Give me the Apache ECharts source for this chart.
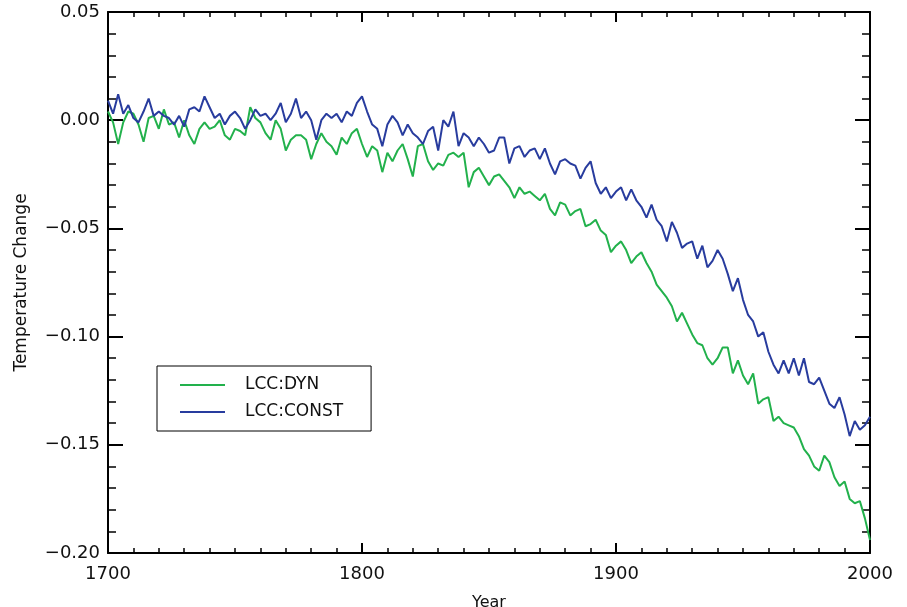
<!DOCTYPE html>
<html>
<head>
<meta charset="utf-8">
<script src="https://cdn.jsdelivr.net/npm/echarts@6/dist/echarts.min.js"></script>
<style>
  html, body { margin: 0; padding: 0; background: #fff; }
  #chart { width: 907px; height: 607px; }
</style>
</head>
<body>
<div id="chart"></div>
<script>
// model years, every second year from 1700 to 2000
const startYear = 1700;
const yearStep = 2;

// LCC:DYN, temperature change
const dynValues = [
  0.004, -0.001, -0.011, -0.001, 0.004,
  0.003, -0.002, -0.010, 0.001, 0.002,
  -0.004, 0.005, -0.002, -0.001, -0.008,
  0.000, -0.007, -0.011, -0.004, -0.001,
  -0.004, -0.003, 0.000, -0.007, -0.009,
  -0.004, -0.005, -0.007, 0.006, 0.001,
  -0.001, -0.006, -0.009, 0.000, -0.004,
  -0.014, -0.009, -0.007, -0.007, -0.009,
  -0.018, -0.011, -0.006, -0.010, -0.012,
  -0.016, -0.008, -0.011, -0.006, -0.004,
  -0.011, -0.017, -0.012, -0.014, -0.024,
  -0.015, -0.019, -0.014, -0.011, -0.018,
  -0.026, -0.012, -0.011, -0.019, -0.023,
  -0.020, -0.021, -0.016, -0.015, -0.017,
  -0.015, -0.031, -0.024, -0.022, -0.026,
  -0.030, -0.026, -0.025, -0.028, -0.031,
  -0.036, -0.031, -0.034, -0.033, -0.035,
  -0.037, -0.034, -0.041, -0.044, -0.038,
  -0.039, -0.044, -0.042, -0.041, -0.049,
  -0.048, -0.046, -0.051, -0.053, -0.061,
  -0.058, -0.056, -0.060, -0.066, -0.063,
  -0.061, -0.066, -0.070, -0.076, -0.079,
  -0.082, -0.086, -0.093, -0.089, -0.094,
  -0.099, -0.103, -0.104, -0.110, -0.113,
  -0.110, -0.105, -0.105, -0.117, -0.111,
  -0.118, -0.122, -0.117, -0.131, -0.129,
  -0.128, -0.139, -0.137, -0.140, -0.141,
  -0.142, -0.146, -0.152, -0.155, -0.160,
  -0.162, -0.155, -0.158, -0.165, -0.169,
  -0.167, -0.175, -0.177, -0.176, -0.184,
  -0.194
];

// LCC:CONST, temperature change
const constValues = [
  0.009, 0.003, 0.012, 0.003, 0.007,
  0.001, -0.001, 0.004, 0.010, 0.002,
  0.004, 0.002, 0.001, -0.002, 0.002,
  -0.003, 0.005, 0.006, 0.004, 0.011,
  0.006, 0.001, 0.003, -0.002, 0.002,
  0.004, 0.001, -0.004, 0.000, 0.005,
  0.002, 0.003, 0.000, 0.003, 0.008,
  -0.001, 0.003, 0.010, 0.001, 0.004,
  0.000, -0.009, 0.000, 0.003, 0.001,
  0.003, -0.001, 0.004, 0.002, 0.008,
  0.011, 0.004, -0.002, -0.004, -0.012,
  -0.002, 0.002, -0.001, -0.007, -0.002,
  -0.006, -0.008, -0.011, -0.005, -0.003,
  -0.014, 0.000, -0.003, 0.004, -0.012,
  -0.006, -0.008, -0.012, -0.008, -0.011,
  -0.015, -0.014, -0.008, -0.008, -0.020,
  -0.013, -0.012, -0.017, -0.014, -0.013,
  -0.018, -0.013, -0.020, -0.025, -0.019,
  -0.018, -0.020, -0.021, -0.027, -0.022,
  -0.019, -0.029, -0.034, -0.031, -0.036,
  -0.033, -0.031, -0.037, -0.032, -0.037,
  -0.040, -0.045, -0.039, -0.046, -0.049,
  -0.056, -0.047, -0.052, -0.059, -0.057,
  -0.056, -0.064, -0.058, -0.068, -0.065,
  -0.060, -0.064, -0.071, -0.079, -0.073,
  -0.083, -0.090, -0.093, -0.100, -0.098,
  -0.107, -0.113, -0.117, -0.111, -0.117,
  -0.110, -0.118, -0.110, -0.121, -0.122,
  -0.119, -0.125, -0.131, -0.133, -0.128,
  -0.136, -0.146, -0.139, -0.143, -0.141,
  -0.137
];

const seriesNames = ['LCC:DYN', 'LCC:CONST'];
const seriesColors = ['#22b14c', '#283c9e'];

const years = dynValues.map((_, i) => startYear + i * yearStep);
const toPairs = (vals) => vals.map((v, i) => [years[i], v]);

const font = 'DejaVu Sans, Verdana, sans-serif';
const fmtY = (v) => v.toFixed(2).replace('-', '\u2212');

const frameLine = { show: true, onZero: false, lineStyle: { color: '#000', width: 2 } };

const xBase = {
    type: 'value',
    min: 1700,
    max: 2000,
    interval: 100,
    axisLine: frameLine,
    axisTick: { show: true, inside: true, length: 10, lineStyle: { color: '#000', width: 2 } },
    minorTick: { show: true, splitNumber: 10, length: 5, lineStyle: { color: '#000', width: 1.5 } },
    splitLine: { show: false }
};

const yBase = {
    type: 'value',
    min: -0.2,
    max: 0.05,
    interval: 0.05,
    axisLine: frameLine,
    axisTick: { show: true, inside: true, length: 15, lineStyle: { color: '#000', width: 2 } },
    minorTick: { show: true, splitNumber: 5, length: 8, lineStyle: { color: '#000', width: 1.5 } },
    splitLine: { show: false }
};

const myChart = echarts.init(document.getElementById('chart'));

const option = {
    backgroundColor: '#fff',
    animation: false,
    grid: { left: 108, right: 37, top: 12, bottom: 54, outerBoundsMode: 'none', containLabel: false },
    legend: {
        orient: 'vertical',
        left: 157,
        top: 366,
        data: seriesNames,
        icon: 'rect',
        itemWidth: 45,
        itemHeight: 2,
        itemGap: 9,
        padding: [10, 28, 10, 23],
        borderColor: '#000',
        borderWidth: 1,
        borderRadius: 0,
        textStyle: { fontFamily: font, fontSize: 17, color: '#111', lineHeight: 18, padding: [0, 0, 0, 15] }
    },
    xAxis: [
        Object.assign({}, xBase, {
            position: 'bottom',
            name: 'Year',
            nameLocation: 'middle',
            nameGap: 42,
            nameTextStyle: { fontFamily: font, fontSize: 16, color: '#111' },
            axisLabel: { fontFamily: font, fontSize: 18, color: '#111', margin: 12, formatter: (v) => String(v) }
        }),
        Object.assign({}, xBase, { position: 'top', axisLabel: { show: false } })
    ],
    yAxis: [
        Object.assign({}, yBase, {
            position: 'left',
            name: 'Temperature Change',
            nameLocation: 'middle',
            nameGap: 78,
            nameTextStyle: { fontFamily: font, fontSize: 17, color: '#111' },
            axisLabel: { fontFamily: font, fontSize: 18, color: '#111', margin: 8, formatter: fmtY }
        }),
        Object.assign({}, yBase, { position: 'right', axisLabel: { show: false } })
    ],
    series: seriesNames.map((name, k) => ({
        name: name,
        type: 'line',
        xAxisIndex: 0,
        yAxisIndex: 0,
        data: toPairs(k === 0 ? dynValues : constValues),
        showSymbol: false,
        color: seriesColors[k],
        lineStyle: { color: seriesColors[k], width: 2 }
    }))
};

myChart.setOption(option);
</script>
</body>
</html>
